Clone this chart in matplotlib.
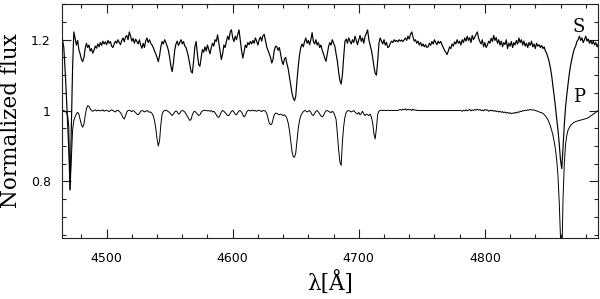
import numpy as np
import matplotlib
matplotlib.use('Agg')
import matplotlib.pyplot as plt
from matplotlib.ticker import MultipleLocator, FuncFormatter

## wavelength grid of the spectra (1 Angstrom steps)
wave_start = 4465
wave_end = 4890

## secondary star (S), shifted up by 0.2 - one row = 10 Angstrom
flux_S = [
    1.200, 1.180, 1.120, 1.050, 0.970, 0.890, 0.778, 0.950, 1.120, 1.222,
    1.205, 1.185, 1.198, 1.172, 1.160, 1.145, 1.138, 1.150, 1.175, 1.190,
    1.178, 1.185, 1.168, 1.175, 1.162, 1.170, 1.182, 1.176, 1.188, 1.180,
    1.192, 1.184, 1.196, 1.188, 1.194, 1.186, 1.198, 1.190, 1.195, 1.182,
    1.178, 1.188, 1.196, 1.190, 1.200, 1.192, 1.186, 1.198, 1.205, 1.194,
    1.208, 1.212, 1.200, 1.222, 1.210, 1.196, 1.204, 1.190, 1.202, 1.195,
    1.188, 1.200, 1.185, 1.176, 1.190, 1.178, 1.196, 1.205, 1.192, 1.200,
    1.190, 1.185, 1.178, 1.168, 1.160, 1.150, 1.138, 1.155, 1.180, 1.195,
    1.188, 1.200, 1.192, 1.182, 1.170, 1.150, 1.125, 1.110, 1.135, 1.170,
    1.188, 1.196, 1.184, 1.192, 1.200, 1.188, 1.195, 1.182, 1.178, 1.165,
    1.150, 1.130, 1.110, 1.106, 1.140, 1.180, 1.195, 1.160, 1.130, 1.125,
    1.150, 1.172, 1.165, 1.180, 1.168, 1.185, 1.172, 1.160, 1.178, 1.190,
    1.182, 1.200, 1.195, 1.214, 1.190, 1.168, 1.144, 1.160, 1.185, 1.178,
    1.195, 1.210, 1.200, 1.222, 1.228, 1.205, 1.195, 1.210, 1.200, 1.215,
    1.228, 1.200, 1.170, 1.148, 1.165, 1.185, 1.178, 1.192, 1.186, 1.195,
    1.188, 1.198, 1.190, 1.205, 1.196, 1.185, 1.200, 1.208, 1.196, 1.212,
    1.215, 1.198, 1.180, 1.170, 1.160, 1.150, 1.134, 1.145, 1.170, 1.182,
    1.180, 1.170, 1.178, 1.160, 1.140, 1.130, 1.145, 1.150, 1.132, 1.118,
    1.095, 1.070, 1.050, 1.035, 1.028, 1.040, 1.085, 1.125, 1.157, 1.178,
    1.188, 1.180, 1.195, 1.205, 1.190, 1.198, 1.186, 1.200, 1.220, 1.195,
    1.188, 1.200, 1.185, 1.192, 1.178, 1.185, 1.170, 1.160, 1.148, 1.139,
    1.160, 1.180, 1.192, 1.185, 1.200, 1.190, 1.182, 1.160, 1.140, 1.110,
    1.085, 1.075, 1.100, 1.150, 1.195, 1.202, 1.190, 1.205, 1.196, 1.188,
    1.200, 1.192, 1.210, 1.198, 1.186, 1.200, 1.212, 1.195, 1.205, 1.190,
    1.210, 1.218, 1.228, 1.200, 1.185, 1.170, 1.150, 1.125, 1.105, 1.100,
    1.140, 1.190, 1.205, 1.196, 1.188, 1.200, 1.185, 1.192, 1.178, 1.180,
    1.190, 1.196, 1.192, 1.200, 1.195, 1.198, 1.194, 1.200, 1.196, 1.199,
    1.195, 1.200, 1.205, 1.198, 1.210, 1.202, 1.215, 1.222, 1.208, 1.196,
    1.200, 1.190, 1.196, 1.185, 1.192, 1.182, 1.188, 1.180, 1.186, 1.178,
    1.180, 1.190, 1.184, 1.195, 1.188, 1.200, 1.192, 1.186, 1.196, 1.190,
    1.195, 1.186, 1.178, 1.170, 1.165, 1.158, 1.168, 1.180, 1.175, 1.188,
    1.182, 1.194, 1.188, 1.200, 1.190, 1.196, 1.185, 1.200, 1.192, 1.205,
    1.196, 1.210, 1.198, 1.206, 1.192, 1.212, 1.200, 1.208, 1.215, 1.222,
    1.205, 1.195, 1.188, 1.200, 1.180, 1.192, 1.178, 1.185, 1.196, 1.190,
    1.204, 1.195, 1.212, 1.198, 1.206, 1.190, 1.200, 1.185, 1.196, 1.180,
    1.192, 1.186, 1.200, 1.175, 1.190, 1.182, 1.195, 1.178, 1.192, 1.185,
    1.198, 1.188, 1.205, 1.192, 1.200, 1.185, 1.196, 1.182, 1.190, 1.178,
    1.192, 1.184, 1.196, 1.180, 1.188, 1.175, 1.190, 1.182, 1.186, 1.178,
    1.184, 1.175, 1.180, 1.168, 1.162, 1.150, 1.138, 1.120, 1.098, 1.070,
    1.040, 1.010, 0.975, 0.945, 0.905, 0.860, 0.836, 0.895, 0.960, 1.010,
    1.045, 1.075, 1.105, 1.128, 1.145, 1.162, 1.175, 1.182, 1.195, 1.200,
    1.210, 1.198, 1.205, 1.192, 1.200, 1.210, 1.196, 1.202, 1.190, 1.198,
    1.188, 1.196, 1.185, 1.192, 1.180, 1.188,
]

## primary star (P) - one row = 10 Angstrom
flux_P = [
    1.000, 1.000, 0.998, 0.995, 0.988, 0.955, 0.775, 0.860, 0.945, 0.972,
    0.982, 0.990, 0.995, 0.990, 0.975, 0.960, 0.953, 0.962, 0.985, 1.005,
    1.014, 1.012, 1.005, 1.000, 0.998, 1.000, 1.002, 0.999, 1.000, 1.001,
    0.999, 1.000, 1.002, 0.998, 1.000, 1.001, 0.999, 0.997, 1.000, 1.002,
    1.000, 0.998, 0.996, 1.000, 1.001, 0.998, 0.994, 0.988, 0.980, 0.976,
    0.985, 0.996, 1.000, 1.001, 0.999, 0.997, 1.000, 0.998, 0.994, 0.990,
    0.988, 0.992, 0.998, 1.000, 0.999, 0.996, 0.998, 1.000, 0.998, 0.995,
    0.996, 0.992, 0.985, 0.972, 0.950, 0.920, 0.900, 0.915, 0.960, 0.990,
    0.998, 1.000, 1.001, 0.999, 0.997, 0.994, 0.990, 0.986, 0.990, 0.996,
    0.999, 0.996, 0.990, 0.992, 0.998, 1.000, 0.999, 0.996, 0.990, 0.984,
    0.978, 0.972, 0.975, 0.988, 0.996, 0.998, 0.994, 0.990, 0.986, 0.988,
    0.995, 0.999, 1.000, 1.001, 1.000, 0.999, 1.000, 0.998, 1.000, 0.996,
    0.998, 0.994, 0.988, 0.982, 0.981, 0.988, 0.996, 1.000, 0.998, 0.994,
    0.990, 0.986, 0.986, 0.992, 0.998, 1.000, 0.996, 0.990, 0.988, 0.994,
    0.999, 1.000, 0.996, 0.988, 0.982, 0.986, 0.995, 1.000, 1.001, 0.999,
    1.000, 1.001, 0.999, 1.000, 0.998, 1.000, 1.001, 0.999, 0.997, 1.000,
    1.000, 0.998, 0.992, 0.978, 0.965, 0.960, 0.962, 0.975, 0.988, 0.993,
    0.992, 0.990, 0.988, 0.990, 0.988, 0.986, 0.988, 0.985, 0.978, 0.965,
    0.945, 0.915, 0.885, 0.870, 0.868, 0.880, 0.915, 0.950, 0.972, 0.985,
    0.992, 0.997, 1.000, 0.999, 0.996, 0.998, 1.000, 0.995, 0.988, 0.986,
    0.992, 0.998, 1.000, 0.996, 0.990, 0.985, 0.982, 0.986, 0.994, 0.999,
    1.000, 0.998, 0.996, 0.994, 0.998, 0.995, 0.986, 0.975, 0.935, 0.890,
    0.855, 0.845, 0.910, 0.955, 0.981, 0.995, 0.999, 1.000, 0.998, 0.996,
    0.998, 1.000, 0.996, 0.992, 0.990, 0.995, 0.988, 0.992, 0.998, 0.990,
    0.986, 0.990, 0.988, 0.986, 0.990, 0.982, 0.965, 0.935, 0.920, 0.950,
    0.990, 0.999, 1.000, 1.001, 1.000, 1.001, 1.000, 1.000, 1.001, 1.000,
    1.000, 1.001, 1.000, 1.000, 1.001, 1.000, 1.000, 1.002, 1.003, 1.001,
    1.004, 1.002, 1.005, 1.001, 1.004, 1.002, 1.003, 1.000, 1.004, 1.001,
    1.002, 1.000, 1.001, 1.000, 1.000, 1.000, 1.000, 1.000, 1.000, 1.000,
    1.000, 1.000, 1.000, 1.000, 1.000, 1.000, 1.000, 1.000, 1.000, 1.000,
    1.000, 1.000, 1.000, 1.000, 1.000, 1.000, 1.000, 1.000, 1.000, 1.000,
    1.000, 1.000, 1.000, 1.000, 1.000, 1.000, 1.000, 0.998, 1.001, 0.999,
    1.002, 0.999, 1.001, 1.003, 0.999, 1.002, 1.000, 1.003, 1.001, 1.004,
    1.001, 1.003, 1.000, 1.002, 0.999, 1.003, 1.001, 1.002, 0.998, 1.001,
    0.999, 1.001, 0.998, 1.000, 0.997, 0.999, 0.996, 0.998, 0.995, 0.997,
    0.994, 0.996, 0.993, 0.995, 0.992, 0.994, 0.991, 0.993, 0.992, 0.995,
    0.993, 0.996, 0.995, 0.998, 0.997, 1.000, 0.999, 1.001, 1.000, 1.002,
    1.001, 1.003, 1.002, 1.001, 1.002, 1.000, 0.999, 0.998, 0.996, 0.995,
    0.994, 0.992, 0.989, 0.985, 0.980, 0.974, 0.966, 0.956, 0.944, 0.930,
    0.912, 0.890, 0.860, 0.815, 0.740, 0.640, 0.580, 0.750, 0.850, 0.905,
    0.930, 0.945, 0.952, 0.958, 0.962, 0.965, 0.967, 0.969, 0.970, 0.971,
    0.972, 0.973, 0.974, 0.975, 0.976, 0.977, 0.978, 0.980, 0.982, 0.985,
    0.987, 0.990, 0.992, 0.995, 0.998, 1.000,
]

## labels of the two spectra
label_S = 'S'
label_P = 'P'


def genFigSpectrum():
    wave = np.arange(wave_start, wave_end + 1)

    ## figure of 600 x 299 pixels
    fig = plt.figure(figsize=(6.0, 2.99), dpi=100)
    ax = fig.add_axes([0.1033, 0.205, 0.8933, 0.7806])

    ## plot both spectra (S is the noisier one, drawn a bit heavier)
    ax.plot(wave, flux_S, color='black', linewidth=0.85)
    ax.plot(wave, flux_P, color='black', linewidth=0.7)

    ax.set_xlim(4464.6, 4889.7)
    ax.set_ylim(0.641, 1.300)

    ## ticks on all four sides, pointing inwards
    ax.xaxis.set_major_locator(MultipleLocator(100))
    ax.xaxis.set_minor_locator(MultipleLocator(20))
    ax.yaxis.set_major_locator(MultipleLocator(0.2))
    ax.yaxis.set_minor_locator(MultipleLocator(0.05))
    ax.yaxis.set_major_formatter(FuncFormatter(lambda v, p: '%g' % round(v, 2)))
    ax.tick_params(which='both', direction='in', top=True, right=True,
                   width=0.8, colors='#222222', labelcolor='black',
                   labelsize=9)
    ax.tick_params(which='major', length=6.5)
    ax.tick_params(which='minor', length=3.2)
    ax.tick_params(axis='x', which='major', pad=10)
    ax.tick_params(axis='y', which='major', pad=8)
    for s in ax.spines.values():
        s.set_linewidth(0.8)
        s.set_color('#222222')

    ## axis titles
    fig.text(0.019, 0.598, 'Normalized flux', rotation=90, ha='center',
             va='center', family='DejaVu Serif', fontsize=15.5)
    fig.text(0.55, 0.05, u'\u03bb[\u00c5]', ha='center', va='center',
             family='DejaVu Serif', fontsize=15.5)

    ## spectrum labels
    ax.text(0.9646, 0.903, label_S, transform=ax.transAxes, ha='center',
            va='center', family='DejaVu Serif', fontsize=13)
    ax.text(0.9646, 0.603, label_P, transform=ax.transAxes, ha='center',
            va='center', family='DejaVu Serif', fontsize=13)

    plt.savefig('out.png', dpi=100)
    plt.close()


assert len(flux_S) == wave_end - wave_start + 1
assert len(flux_P) == wave_end - wave_start + 1
genFigSpectrum()
